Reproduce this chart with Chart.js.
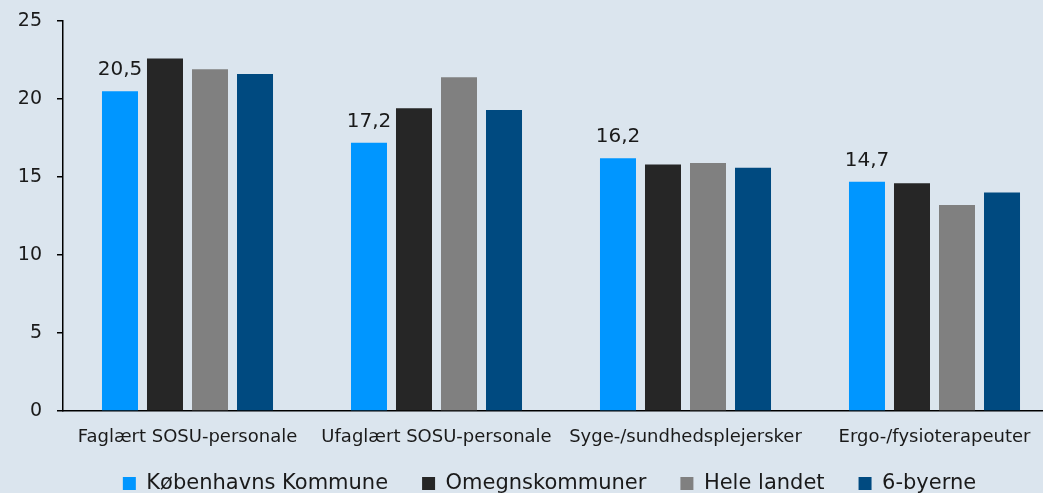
<!DOCTYPE html>
<html>
<head>
<meta charset="utf-8">
<script src="https://cdn.jsdelivr.net/npm/chart.js@4.4.1/dist/chart.umd.min.js"></script>
<style>
  html, body { margin: 0; padding: 0; background: #dbe5ee; overflow: hidden; }
  #wrap { width: 1060px; height: 493px; }
</style>
</head>
<body>
<div id="wrap"><canvas id="chart"></canvas></div>
<script>
const categories = ['Faglært SOSU-personale', 'Ufaglært SOSU-personale', 'Syge-/sundhedsplejersker', 'Ergo-/fysioterapeuter'];
const kbhKommune = [20.5, 17.2, 16.2, 14.7];
const omegnskommuner = [22.6, 19.4, 15.8, 14.6];
const heleLandet = [21.9, 21.4, 15.9, 13.2];
const seksByerne = [21.6, 19.3, 15.6, 14.0];
const yTicks = [0, 5, 10, 15, 20, 25];

const FONT = '"DejaVu Sans", sans-serif';
const INK = '#1a1a1a';
const LEGEND_H = 36;

// value labels above the first series only
const valueLabels = {
  id: 'valueLabels',
  afterDatasetsDraw(chart) {
    const ctx = chart.ctx;
    const meta = chart.getDatasetMeta(0);
    ctx.save();
    ctx.font = '20px ' + FONT;
    ctx.fillStyle = INK;
    ctx.textAlign = 'center';
    ctx.textBaseline = 'alphabetic';
    meta.data.forEach((bar, i) => {
      const v = chart.data.datasets[0].data[i];
      ctx.fillText(String(v).replace('.', ','), bar.x, bar.y - 16);
    });
    ctx.restore();
  }
};

// keep the legend short in the layout, then give it room to draw at the bottom
const legendFit = {
  id: 'legendFit',
  beforeLayout(chart) {
    const lg = chart.legend;
    if (lg && !lg._fitWrapped) {
      const orig = lg.fit;
      lg.fit = function () {
        orig.call(this);
        this.height = LEGEND_H;
      };
      lg._fitWrapped = true;
    }
  },
  afterLayout(chart) {
    const lg = chart.legend;
    lg.left += 20;
    lg.right += 20;
    lg.top = 439;
    lg.bottom = chart.height;
  }
};

const common = { barPercentage: 0.8, categoryPercentage: 0.723 };

new Chart(document.getElementById('chart'), {
  type: 'bar',
  data: {
    labels: categories,
    datasets: [
      { label: 'Københavns Kommune', data: kbhKommune, backgroundColor: '#0096ff', ...common },
      { label: 'Omegnskommuner', data: omegnskommuner, backgroundColor: '#262626', ...common },
      { label: 'Hele landet', data: heleLandet, backgroundColor: '#808080', ...common },
      { label: '6-byerne', data: seksByerne, backgroundColor: '#004a80', ...common }
    ]
  },
  plugins: [valueLabels, legendFit],
  options: {
    responsive: true,
    maintainAspectRatio: false,
    animation: false,
    layout: { padding: { top: 21, right: 1, left: 0, bottom: 0 } },
    plugins: {
      tooltip: { enabled: false },
      legend: {
        position: 'bottom',
        labels: {
          color: INK,
          font: { family: FONT, size: 21 },
          boxWidth: 13,
          boxHeight: 13,
          padding: 34
        }
      }
    },
    scales: {
      x: {
        afterFit(s) { s.height = 46; },
        border: { display: true, color: '#000', width: 1.5 },
        grid: { display: false },
        ticks: { color: INK, font: { family: FONT, size: 18 }, padding: 8, maxRotation: 0 }
      },
      y: {
        min: 0,
        max: 25,
        afterFit(s) {
          s.width = 63;
          s.paddingTop = 0;
          s.paddingBottom = 0;
        },
        afterBuildTicks(s) { s.ticks = yTicks.map(v => ({ value: v })); },
        border: { display: true, color: '#000', width: 1.5 },
        grid: { drawOnChartArea: false, drawTicks: true, tickLength: 6, color: '#000', lineWidth: 1.5 },
        ticks: { color: INK, font: { family: FONT, size: 19 }, padding: 15 }
      }
    }
  }
});
</script>
</body>
</html>
